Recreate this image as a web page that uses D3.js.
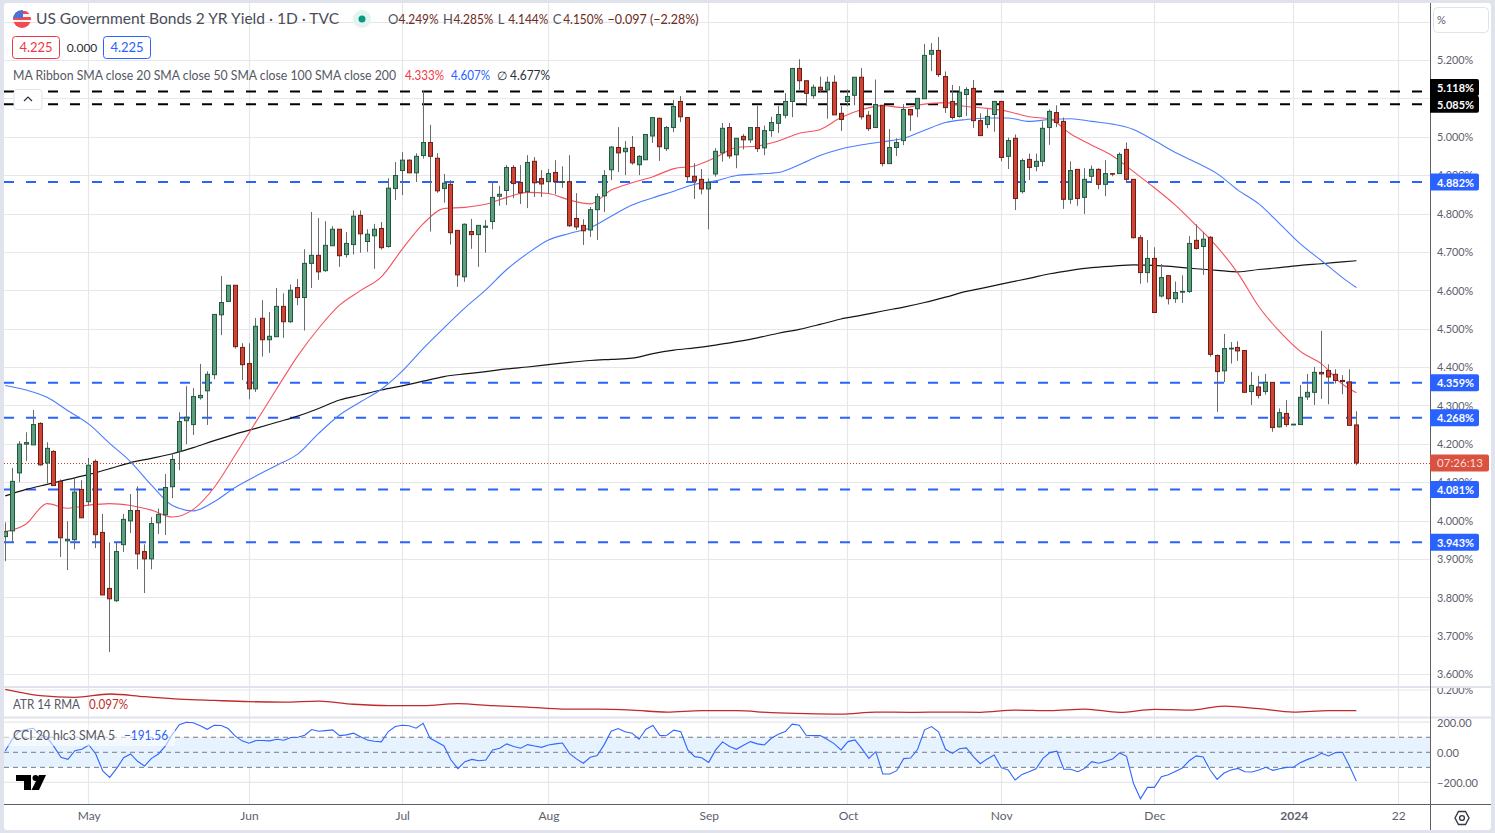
<!DOCTYPE html>
<html>
<head>
<meta charset="utf-8">
<title>US Government Bonds 2 YR Yield</title>
<script src="https://cdn.jsdelivr.net/npm/d3@7/dist/d3.min.js"></script>
<style>
html, body { margin: 0; padding: 0; background: #e0e3eb; overflow: hidden; }
svg { display: block; }
text { font-family: Lato, "Open Sans", sans-serif; }
</style>
</head>
<body>
<div id="chart"></div>
<script>
// daily candles, oldest first (left edge is mid April 2023)
var opens = [
	3.958,3.973,4.124,4.199,4.197,4.253,4.150,4.180,4.102,3.947,
	3.950,4.081,4.049,4.154,3.969,3.823,3.791,3.937,3.999,4.026,
	3.919,3.900,3.994,4.015,4.088,4.180,4.260,4.250,4.320,4.338,
	4.380,4.536,4.571,4.613,4.451,4.409,4.343,4.527,4.471,4.479,
	4.558,4.518,4.607,4.581,4.670,4.691,4.651,4.716,4.759,4.693,
	4.719,4.795,4.727,4.742,4.761,4.714,4.865,4.912,4.939,4.906,
	4.951,4.985,4.944,4.865,4.876,4.756,4.635,4.753,4.745,4.764,
	4.779,4.845,4.860,4.920,4.881,4.857,4.936,4.891,4.883,4.907,
	4.881,4.883,4.787,4.769,4.757,4.810,4.846,4.914,4.972,4.961,
	4.972,4.927,4.940,5.002,5.048,4.969,5.024,5.092,5.050,4.897,
	4.889,4.864,4.903,4.958,5.024,4.953,5.001,4.992,5.024,4.971,
	5.016,5.035,5.056,5.092,5.178,5.146,5.107,5.129,5.122,5.142,
	5.061,5.092,5.108,5.155,5.056,5.024,5.082,4.930,4.972,4.990,
	5.071,5.073,5.099,5.215,5.225,5.157,5.092,5.053,5.110,5.126,
	5.042,5.032,5.058,5.092,4.949,4.996,4.857,4.941,4.923,4.936,
	5.024,5.063,5.040,4.837,4.915,4.842,4.897,4.915,4.876,4.904,
	4.904,4.967,4.889,4.737,4.646,4.683,4.585,4.638,4.578,4.595,
	4.597,4.730,4.714,4.738,4.430,4.390,4.447,4.451,4.443,4.336,
	4.348,4.336,4.360,4.244,4.279,4.249,4.250,4.322,4.334,4.386,
	4.391,4.381,4.365,4.361,4.249];
var highs = [
	3.995,4.137,4.207,4.230,4.288,4.256,4.204,4.183,4.107,3.998,
	4.110,4.105,4.163,4.159,4.017,3.943,3.943,4.017,4.069,4.089,
	3.938,4.009,4.031,4.121,4.175,4.282,4.350,4.345,4.408,4.389,
	4.537,4.637,4.613,4.613,4.462,4.462,4.528,4.574,4.543,4.606,
	4.592,4.615,4.629,4.707,4.804,4.788,4.780,4.767,4.759,4.752,
	4.808,4.808,4.759,4.773,4.778,4.892,4.934,4.960,4.941,4.957,
	5.119,5.031,4.957,4.903,4.887,4.756,4.774,4.786,4.769,4.783,
	4.884,4.872,4.926,4.926,4.926,4.952,4.947,4.913,4.916,4.939,
	4.923,4.952,4.853,4.785,4.817,4.852,4.913,4.976,5.025,4.989,
	5.002,4.952,5.006,5.050,5.050,5.028,5.096,5.106,5.050,4.931,
	4.916,4.891,4.970,5.036,5.036,4.996,5.007,5.024,5.080,5.029,
	5.052,5.080,5.114,5.178,5.202,5.146,5.136,5.157,5.157,5.160,
	5.080,5.123,5.155,5.179,5.067,5.149,5.082,5.020,4.996,5.085,
	5.071,5.100,5.242,5.244,5.260,5.170,5.135,5.132,5.129,5.148,
	5.061,5.072,5.092,5.092,4.998,5.006,4.943,4.956,4.956,5.040,
	5.071,5.082,5.050,4.936,4.915,4.918,4.925,4.918,4.939,4.904,
	4.959,4.985,4.889,4.744,4.731,4.712,4.668,4.638,4.623,4.639,
	4.741,4.772,4.751,4.741,4.433,4.486,4.465,4.467,4.443,4.387,
	4.377,4.382,4.360,4.292,4.314,4.251,4.353,4.382,4.400,4.494,
	4.407,4.394,4.379,4.394,4.285];
var lows = [
	3.894,3.945,4.100,4.155,4.197,4.143,4.097,4.090,3.905,3.871,
	3.925,4.007,4.039,3.928,3.806,3.657,3.788,3.918,3.967,3.873,
	3.811,3.873,3.965,3.962,4.058,4.131,4.199,4.223,4.315,4.249,
	4.368,4.483,4.571,4.448,4.366,4.316,4.335,4.427,4.437,4.479,
	4.476,4.515,4.561,4.495,4.606,4.627,4.648,4.716,4.661,4.685,
	4.693,4.698,4.700,4.656,4.706,4.711,4.835,4.848,4.906,4.882,
	4.943,4.753,4.854,4.828,4.719,4.609,4.622,4.708,4.661,4.698,
	4.759,4.820,4.822,4.840,4.825,4.814,4.843,4.843,4.852,4.850,
	4.867,4.765,4.757,4.718,4.739,4.731,4.804,4.887,4.908,4.900,
	4.927,4.900,4.940,4.984,4.937,4.963,5.012,5.038,4.885,4.838,
	4.850,4.759,4.896,4.935,4.943,4.918,4.967,4.984,4.960,4.952,
	5.000,5.010,5.048,5.051,5.122,5.080,5.099,5.116,5.047,5.057,
	5.015,5.079,5.082,5.045,5.015,5.024,4.923,4.930,4.950,4.978,
	5.015,5.051,5.099,5.171,5.156,5.062,5.045,5.050,5.054,5.023,
	5.003,5.022,5.013,4.936,4.916,4.809,4.852,4.887,4.910,4.923,
	4.979,5.025,4.812,4.825,4.820,4.799,4.883,4.863,4.845,4.897,
	4.904,4.881,4.735,4.617,4.620,4.542,4.581,4.563,4.567,4.567,
	4.593,4.706,4.640,4.427,4.283,4.361,4.409,4.416,4.334,4.301,
	4.318,4.328,4.231,4.242,4.244,4.249,4.250,4.314,4.301,4.317,
	4.303,4.357,4.329,4.248,4.144];
var closes = [
	3.971,4.102,4.199,4.203,4.250,4.145,4.188,4.091,3.955,3.951,
	4.074,4.007,4.144,3.963,3.806,3.796,3.919,4.003,4.026,3.913,
	3.900,3.992,4.016,4.086,4.159,4.258,4.269,4.323,4.326,4.381,
	4.537,4.568,4.613,4.453,4.406,4.343,4.506,4.471,4.480,4.558,
	4.518,4.600,4.581,4.670,4.691,4.648,4.717,4.759,4.690,4.722,
	4.793,4.747,4.746,4.759,4.711,4.866,4.899,4.939,4.906,4.949,
	4.985,4.949,4.859,4.879,4.750,4.640,4.772,4.745,4.769,4.767,
	4.842,4.850,4.920,4.878,4.854,4.933,4.880,4.877,4.904,4.883,
	4.883,4.768,4.765,4.755,4.810,4.844,4.899,4.973,4.958,4.970,
	4.932,4.949,5.006,5.050,4.974,5.024,5.079,5.052,4.896,4.885,
	4.864,4.881,4.962,5.022,4.950,4.996,4.992,5.024,4.969,5.016,
	5.037,5.058,5.092,5.178,5.146,5.113,5.129,5.122,5.142,5.057,
	5.045,5.105,5.155,5.052,5.021,5.084,4.930,4.972,4.985,5.071,
	5.057,5.100,5.212,5.225,5.162,5.076,5.050,5.116,5.123,5.042,
	5.003,5.053,5.092,4.946,4.990,4.839,4.938,4.920,4.936,5.022,
	5.066,5.037,4.837,4.912,4.839,4.889,4.915,4.876,4.904,4.903,
	4.954,4.889,4.737,4.646,4.683,4.542,4.633,4.578,4.594,4.597,
	4.722,4.709,4.733,4.433,4.388,4.448,4.449,4.442,4.334,4.352,
	4.326,4.360,4.242,4.281,4.250,4.251,4.321,4.334,4.386,4.382,
	4.374,4.365,4.362,4.248,4.150];

// moving averages, read every third bar plus the last bar
var maBars = d3.range(0, 193, 3).concat([194]);
var sma20 = [
	3.971,3.991,4.044,4.032,4.040,4.044,4.039,4.027,4.009,4.029,4.086,4.170,4.257,4.344,
	4.429,4.501,4.561,4.599,4.635,4.707,4.773,4.813,4.816,4.824,4.842,4.855,
	4.852,4.835,4.825,4.861,4.880,4.896,4.917,4.924,4.946,4.972,4.976,4.989,5.009,5.019,5.050,5.071,5.081,
	5.076,5.085,5.089,5.079,5.074,5.066,5.052,5.046,5.007,4.978,4.950,4.909,4.867,4.822,4.769,
	4.713,4.644,4.557,4.492,4.440,4.408,4.355,4.333];
var sma50 = [
	4.352,4.340,4.321,4.286,4.251,4.201,4.153,4.092,4.039,4.025,4.049,4.086,4.116,4.144,
	4.173,4.227,4.275,4.309,4.342,4.389,4.448,4.502,4.554,4.601,4.654,4.696,
	4.731,4.748,4.763,4.793,4.822,4.841,4.858,4.876,4.885,4.899,4.903,4.907,4.927,4.951,4.968,4.979,4.987,
	4.996,5.017,5.037,5.045,5.049,5.049,5.040,5.045,5.047,5.040,5.033,5.019,4.990,4.959,4.933,
	4.904,4.861,4.825,4.773,4.720,4.677,4.633,4.607];
var sma200 = [
	4.064,4.081,4.094,4.107,4.120,4.135,4.151,4.162,4.174,4.190,4.208,4.225,4.240,4.256,
	4.272,4.292,4.314,4.327,4.340,4.351,4.363,4.375,4.382,4.388,4.395,4.400,
	4.406,4.412,4.417,4.420,4.423,4.435,4.444,4.450,4.457,4.466,4.476,4.488,4.498,4.511,4.525,4.535,4.546,
	4.556,4.568,4.582,4.597,4.608,4.620,4.631,4.643,4.652,4.659,4.663,4.666,4.665,4.661,4.656,
	4.652,4.648,4.654,4.659,4.665,4.669,4.674,4.677];

// ATR read every fifth bar plus the last bar
var atrBars = d3.range(0, 191, 5).concat([194]);
var atr = [
	0.203,0.172,0.163,0.180,0.167,0.155,0.148,0.142,0.140,0.145,0.129,0.122,0.122,0.132,0.122,0.115,0.105,0.105,0.100,0.090,0.097,0.097,
	0.087,0.082,0.080,0.090,0.089,0.090,0.089,0.100,0.097,0.105,0.089,0.104,0.100,0.120,0.107,0.090,0.097,0.097];

// CCI smoothed, one value per bar
var cci = [
	9,87,138,151,160,116,100,38,-33,-47,11,20,49,-11,-124,-167,-107,-36,-11,-60,
	-91,-40,-11,42,120,184,200,196,176,153,180,178,158,109,76,60,78,78,76,87,
	80,98,100,113,151,140,144,149,111,116,127,104,82,73,69,138,171,180,176,160,
	193,93,69,42,-51,-109,-62,-47,-56,-51,16,27,56,38,27,51,42,33,49,56,
	62,-7,-44,-73,-33,-22,51,140,158,136,127,87,153,178,111,113,147,136,16,-29,
	-36,-67,16,69,38,20,47,71,56,49,93,120,138,187,180,113,111,111,87,58,
	16,71,82,24,-40,4,-144,-144,-122,-42,-38,20,149,171,136,20,-7,24,29,-29,
	-76,-44,-18,-102,-118,-184,-147,-129,-109,-40,-2,7,-113,-113,-129,-107,-62,-73,-60,-44,
	-4,-27,-207,-309,-233,-233,-162,-149,-127,-104,-56,-24,-31,-118,-180,-138,-118,-107,-129,-131,
	-118,-100,-120,-109,-100,-98,-67,-47,-31,-7,-24,-2,0,-91,-191.56];

var priceTicks = [5.2,5.1,5.0,4.9,4.8,4.7,4.6,4.5,4.4,4.3,4.2,4.1,4.0,3.9,3.8,3.7,3.6];
var priceGrid = [5.3].concat(priceTicks);
var blackLevels = [5.118, 5.085];
var blueLevels = [4.882, 4.359, 4.268, 4.081, 3.943];
var lastClose = 4.150;
var cciTicks = [200, 0, -200];
var cciLevels = [100, 0, -100];
var monthBars = [12, 35, 57, 78, 101, 121, 143, 165, 185, 200];
var monthNames = ["May", "Jun", "Jul", "Aug", "Sep", "Oct", "Nov", "Dec", "2024", "22"];
var ohlcLetters = ["O", "H", "L", "C"];
var ohlcValues = ["4.249%", "4.285%", "4.144%", "4.150%"];

var W = 1495, H = 833;
var left = 4, right = 1430, outer = 1491;
var GRID = "#e6e7ea", BLUE = "#2962ff", AXIS = "#5d606b";

var x = d3.scaleLinear().domain([0, 194]).range([5.24, 1356.39]);
var y = d3.scaleLinear().domain([3.6, 5.2]).range([674, 60]);
var yAtr = d3.scaleLinear().domain([0.097, 0.2]).range([710.7, 690]);
var yCci = d3.scaleLinear().domain([-200, 200]).range([782.4, 722.2]);

// candles sit on whole pixels
function px(i) { return Math.floor(x(i)) + 0.5; }

// squeeze a text to the narrower width the reference font has
function narrow(sel, k) {
	sel.each(function() {
		d3.select(this).attr("textLength", this.getComputedTextLength() * k)
			.attr("lengthAdjust", "spacingAndGlyphs");
	});
}

var svg = d3.select("#chart").append("svg").attr("width", W).attr("height", H);
var defs = svg.append("defs");
function clip(id, cx, cy, cw, ch) {
	defs.append("clipPath").attr("id", id).append("rect")
		.attr("x", cx).attr("y", cy).attr("width", cw).attr("height", ch);
}
clip("mainClip", left, 3, right - left, 683);
clip("atrClip", left, 688, right - left, 29);
clip("cciClip", left, 719, right - left, 85);
clip("axisClip", right + 1, 3, outer - right - 1, 683);
clip("atrAxisClip", right + 1, 688, outer - right - 1, 29);
defs.append("clipPath").attr("id", "flagClip").append("circle")
	.attr("cx", 22).attr("cy", 19).attr("r", 9);

svg.append("rect").attr("x", left).attr("y", 3).attr("width", outer - left).attr("height", 827)
	.attr("fill", "#fff").attr("rx", 3);

// grid
var grid = svg.append("g").attr("stroke", GRID).attr("stroke-width", 1.2);
grid.selectAll(".v").data(monthBars).enter().append("line")
	.attr("x1", function(d) { return px(d); })
	.attr("x2", function(d) { return px(d); })
	.attr("y1", 3).attr("y2", 804);
grid.selectAll(".h").data(priceGrid).enter().append("line")
	.attr("x1", left).attr("x2", right)
	.attr("y1", function(d) { return Math.round(y(d)) + 0.5; })
	.attr("y2", function(d) { return Math.round(y(d)) + 0.5; });
grid.append("line").attr("x1", left).attr("x2", right)
	.attr("y1", yAtr(0.2)).attr("y2", yAtr(0.2));
grid.selectAll(".c").data([200, -200]).enter().append("line")
	.attr("x1", left).attr("x2", right)
	.attr("y1", function(d) { return yCci(d); })
	.attr("y2", function(d) { return yCci(d); });

// main pane
var main = svg.append("g").attr("clip-path", "url(#mainClip)");

main.append("line").attr("x1", left).attr("x2", right)
	.attr("y1", Math.round(y(lastClose)) + 0.5).attr("y2", Math.round(y(lastClose)) + 0.5)
	.attr("stroke", "#c0392b").attr("stroke-dasharray", "1 2");

function hLevels(levels, color) {
	main.selectAll(null).data(levels).enter().append("line")
		.attr("x1", left).attr("x2", right)
		.attr("y1", function(d) { return y(d); })
		.attr("y2", function(d) { return y(d); })
		.attr("stroke", color).attr("stroke-width", 2)
		.attr("stroke-dasharray", "10 12");
}
hLevels(blackLevels, "#000");
hLevels(blueLevels, BLUE);

function maLine(vals, color, width) {
	var line = d3.line()
		.curve(d3.curveMonotoneX)
		.x(function(d, i) { return x(maBars[i]); })
		.y(function(d) { return y(d); });
	main.append("path").datum(vals).attr("d", line)
		.attr("fill", "none").attr("stroke", color).attr("stroke-width", width);
}
maLine(sma200, "#151515", 1.2);
maLine(sma50, "#4a7dff", 1.1);
maLine(sma20, "#f5535f", 1.1);

var bars = d3.range(opens.length);
function isUp(i) { return closes[i] >= opens[i]; }
main.selectAll(".wick").data(bars).enter().append("line")
	.attr("x1", function(i) { return px(i); })
	.attr("x2", function(i) { return px(i); })
	.attr("y1", function(i) { return y(highs[i]); })
	.attr("y2", function(i) { return y(lows[i]); })
	.attr("stroke", "#6a6a6a");
main.selectAll(".body").data(bars).enter().append("rect")
	.attr("x", function(i) { return px(i) - 2; })
	.attr("width", 4)
	.attr("y", function(i) { return y(Math.max(opens[i], closes[i])); })
	.attr("height", function(i) { return Math.max(0.6, Math.abs(y(opens[i]) - y(closes[i]))); })
	.attr("fill", function(i) { return isUp(i) ? "#5f9c7c" : "#cf4433"; })
	.attr("stroke", function(i) { return isUp(i) ? "#1e5a41" : "#6f1d16"; });

// ATR pane
var atrLine = d3.line()
	.curve(d3.curveMonotoneX)
	.x(function(d, i) { return x(atrBars[i]); })
	.y(function(d) { return yAtr(d); });
svg.append("g").attr("clip-path", "url(#atrClip)").append("path").datum(atr).attr("d", atrLine)
	.attr("fill", "none").attr("stroke", "#c02a2a").attr("stroke-width", 1.3);

// CCI pane
var cciG = svg.append("g").attr("clip-path", "url(#cciClip)");
cciG.append("rect").attr("x", left).attr("width", right - left)
	.attr("y", yCci(100)).attr("height", yCci(-100) - yCci(100))
	.attr("fill", "#e6f2fd");
cciG.selectAll(".lvl").data(cciLevels).enter().append("line")
	.attr("x1", left).attr("x2", right)
	.attr("y1", function(d) { return yCci(d); })
	.attr("y2", function(d) { return yCci(d); })
	.attr("stroke", "#787b86").attr("stroke-dasharray", "5 4");
var cciLine = d3.line()
	.x(function(d, i) { return x(i); })
	.y(function(d) { return yCci(d); });
cciG.append("path").datum(cci).attr("d", cciLine)
	.attr("fill", "none").attr("stroke", "#2f66ff").attr("stroke-width", 1.1);
// legend background lightens whatever sits behind it
cciG.append("rect").attr("x", left).attr("y", 725).attr("width", 171).attr("height", 21)
	.attr("fill", "#fff").attr("opacity", 0.55);

// separators and axis lines
var seps = svg.append("g").attr("stroke", "#e0e3eb").attr("stroke-width", 2);
seps.append("line").attr("x1", left).attr("x2", outer).attr("y1", 687).attr("y2", 687);
seps.append("line").attr("x1", left).attr("x2", outer).attr("y1", 717.5).attr("y2", 717.5);
svg.append("line").attr("x1", right + 0.5).attr("x2", right + 0.5).attr("y1", 3).attr("y2", 830)
	.attr("stroke", AXIS);
svg.append("line").attr("x1", left).attr("x2", outer).attr("y1", 804.5).attr("y2", 804.5)
	.attr("stroke", AXIS);

// price axis
function styleAxis(g) {
	g.select(".domain").remove();
	g.selectAll("text").attr("fill", AXIS).style("font-size", "12px").style("font-family", "Lato");
}
var priceAxis = d3.axisRight(y).tickValues(priceTicks).tickSize(0).tickPadding(0)
	.tickFormat(function(d) { return d3.format(".3f")(d) + "%"; });
var pa = svg.append("g").attr("clip-path", "url(#axisClip)").append("g")
	.attr("transform", "translate(" + (right + 7) + ",0)").call(priceAxis);
styleAxis(pa);
narrow(pa.selectAll("text"), 0.9);

var atrAxis = d3.axisRight(yAtr).tickValues([0.2]).tickSize(0).tickPadding(0)
	.tickFormat(function(d) { return d3.format(".3f")(d) + "%"; });
var aa = svg.append("g").attr("clip-path", "url(#atrAxisClip)").append("g")
	.attr("transform", "translate(" + (right + 7) + ",0)").call(atrAxis);
styleAxis(aa);
narrow(aa.selectAll("text"), 0.9);

var cciAxis = d3.axisRight(yCci).tickValues(cciTicks).tickSize(0).tickPadding(0)
	.tickFormat(function(d) { return d3.format(".2f")(d).replace("-", "\u2212"); });
var ca = svg.append("g").attr("transform", "translate(" + (right + 7) + ",0)").call(cciAxis);
styleAxis(ca);
narrow(ca.selectAll("text"), 0.92);

// time axis
var timeAxis = d3.axisBottom(x).tickValues(monthBars).tickSize(0).tickPadding(0)
	.tickFormat(function(d, i) { return monthNames[i]; });
var ta = svg.append("g").attr("transform", "translate(0,811)").call(timeAxis);
styleAxis(ta);
ta.selectAll("text")
	.style("font-weight", function(d, i) { return monthNames[i] == "2024" ? "bold" : "normal"; });

function label(tx, ty, str, color, size, weight, anchor) {
	return svg.append("text").attr("x", tx).attr("y", ty).text(str)
		.attr("fill", color).style("font-size", size + "px")
		.style("font-weight", weight || "normal")
		.attr("text-anchor", anchor || "start");
}
function fixed(sel, len) {
	return sel.attr("textLength", len).attr("lengthAdjust", "spacingAndGlyphs");
}

// level labels on the price axis, the two black ones are pushed apart
function axisTag(val, bg, shift) {
	var ty = y(val) + shift;
	svg.append("path")
		.attr("d", "M" + right + "," + (ty - 8.5) + "h47a2,2 0 0 1 2,2v13a2,2 0 0 1 -2,2h-47z")
		.attr("fill", bg);
	fixed(label(right + 7, ty + 4.5, d3.format(".3f")(val) + "%", "#fff", 12, "bold"), 37);
}
axisTag(blackLevels[0], "#000", -3.9);
axisTag(blackLevels[1], "#000", 0);
blueLevels.forEach(function(v) { axisTag(v, BLUE, 0); });

// countdown tag
svg.append("rect").attr("x", right).attr("y", y(lastClose) - 8.5).attr("width", 59).attr("height", 17)
	.attr("rx", 2).attr("fill", "#d9513f");
fixed(label(right + 7, y(lastClose) + 4.5, "07:26:13", "#fbdcd6", 12), 46);

// top right unit box
svg.append("rect").attr("x", 1433.5).attr("y", 7.5).attr("width", 55).attr("height", 25).attr("rx", 4)
	.attr("fill", "#fff").attr("stroke", "#e0e3eb");
label(1437, 24, "%", AXIS, 11);

// gear
svg.append("path").attr("d", "M1455,818L1458.5,811.5H1465.5L1469,818L1465.5,824.5H1458.5Z")
	.attr("fill", "none").attr("stroke", "#363a45").attr("stroke-width", 1.4);
svg.append("circle").attr("cx", 1462).attr("cy", 818).attr("r", 2.4)
	.attr("fill", "none").attr("stroke", "#363a45").attr("stroke-width", 1.4);

// title row
var flag = svg.append("g").attr("clip-path", "url(#flagClip)");
flag.append("rect").attr("x", 13).attr("y", 10).attr("width", 18).attr("height", 18).attr("fill", "#f4f4f6");
flag.append("rect").attr("x", 13).attr("y", 11).attr("width", 18).attr("height", 3).attr("fill", "#ef4b50");
flag.append("rect").attr("x", 13).attr("y", 17).attr("width", 18).attr("height", 3).attr("fill", "#ef4b50");
flag.append("rect").attr("x", 13).attr("y", 22).attr("width", 18).attr("height", 6).attr("fill", "#ef4b50");
flag.append("rect").attr("x", 13).attr("y", 10).attr("width", 10).attr("height", 8).attr("fill", "#4a72d8");

fixed(label(36, 24, "US Government Bonds 2 YR Yield \u00b7 1D \u00b7 TVC", "#4a4d58", 15.5), 303);
svg.append("circle").attr("cx", 362).attr("cy", 19).attr("r", 9).attr("fill", "#e3f3ef");
svg.append("circle").attr("cx", 362).attr("cy", 19).attr("r", 3.5).attr("fill", "#089981");

var ohlcX = d3.scaleLinear().domain([0, 4]).range([388, 607.6]);
ohlcLetters.forEach(function(s, i) {
	label(ohlcX(i), 24, s, "#50535e", 13);
	fixed(label(ohlcX(i) + 10.5, 24, ohlcValues[i], "#6e2a21", 13), 40);
});
fixed(label(ohlcX(4), 24, "\u22120.097 (\u22122.28%)", "#6e2a21", 13), 91);

// input boxes
svg.append("rect").attr("x", 12.5).attr("y", 36.5).attr("width", 47).attr("height", 22).attr("rx", 3)
	.attr("fill", "#fff").attr("stroke", "#f23645");
label(36, 52, "4.225", "#f23645", 13, "normal", "middle");
label(82, 52, "0.000", "#2a2e39", 12, "normal", "middle");
svg.append("rect").attr("x", 103.5).attr("y", 36.5).attr("width", 47).attr("height", 22).attr("rx", 3)
	.attr("fill", "#fff").attr("stroke", BLUE);
label(127, 52, "4.225", BLUE, 13, "normal", "middle");

// legends
fixed(label(13, 79.5, "MA Ribbon SMA close 20 SMA close 50 SMA close 100 SMA close 200", "#555863", 12.5), 383);
fixed(label(405, 79.5, "4.333%", "#f23645", 12.5), 39);
fixed(label(451, 79.5, "4.607%", BLUE, 12.5), 39);
label(497, 79.5, "\u2205", "#2a2e39", 12);
fixed(label(510, 79.5, "4.677%", "#2a2e39", 12.5), 40);
fixed(label(13, 709, "ATR 14 RMA", "#555863", 12.5), 67);
fixed(label(89, 709, "0.097%", "#c02a2a", 12.5), 39);
fixed(label(13, 740, "CCI 20 hlc3 SMA 5", "#555863", 12.5), 102);
fixed(label(124, 740, "\u2212191.56", BLUE, 12.5), 44);

// collapse button
svg.append("rect").attr("x", 14).attr("y", 89.5).attr("width", 28).attr("height", 20).attr("rx", 3)
	.attr("fill", "#fff").attr("stroke", "#e0e3eb");
svg.append("path").attr("d", "M24,101l4,-4l4,4").attr("fill", "none").attr("stroke", "#2a2e39").attr("stroke-width", 1.2);

// logo
var logo = svg.append("g").attr("fill", "#000");
logo.append("path").attr("d", "M16,775H31V790H24V781H16Z");
logo.append("circle").attr("cx", 35.5).attr("cy", 778).attr("r", 3);
logo.append("path").attr("d", "M39,775H46L39,790H31.5Z");
</script>
</body>
</html>
